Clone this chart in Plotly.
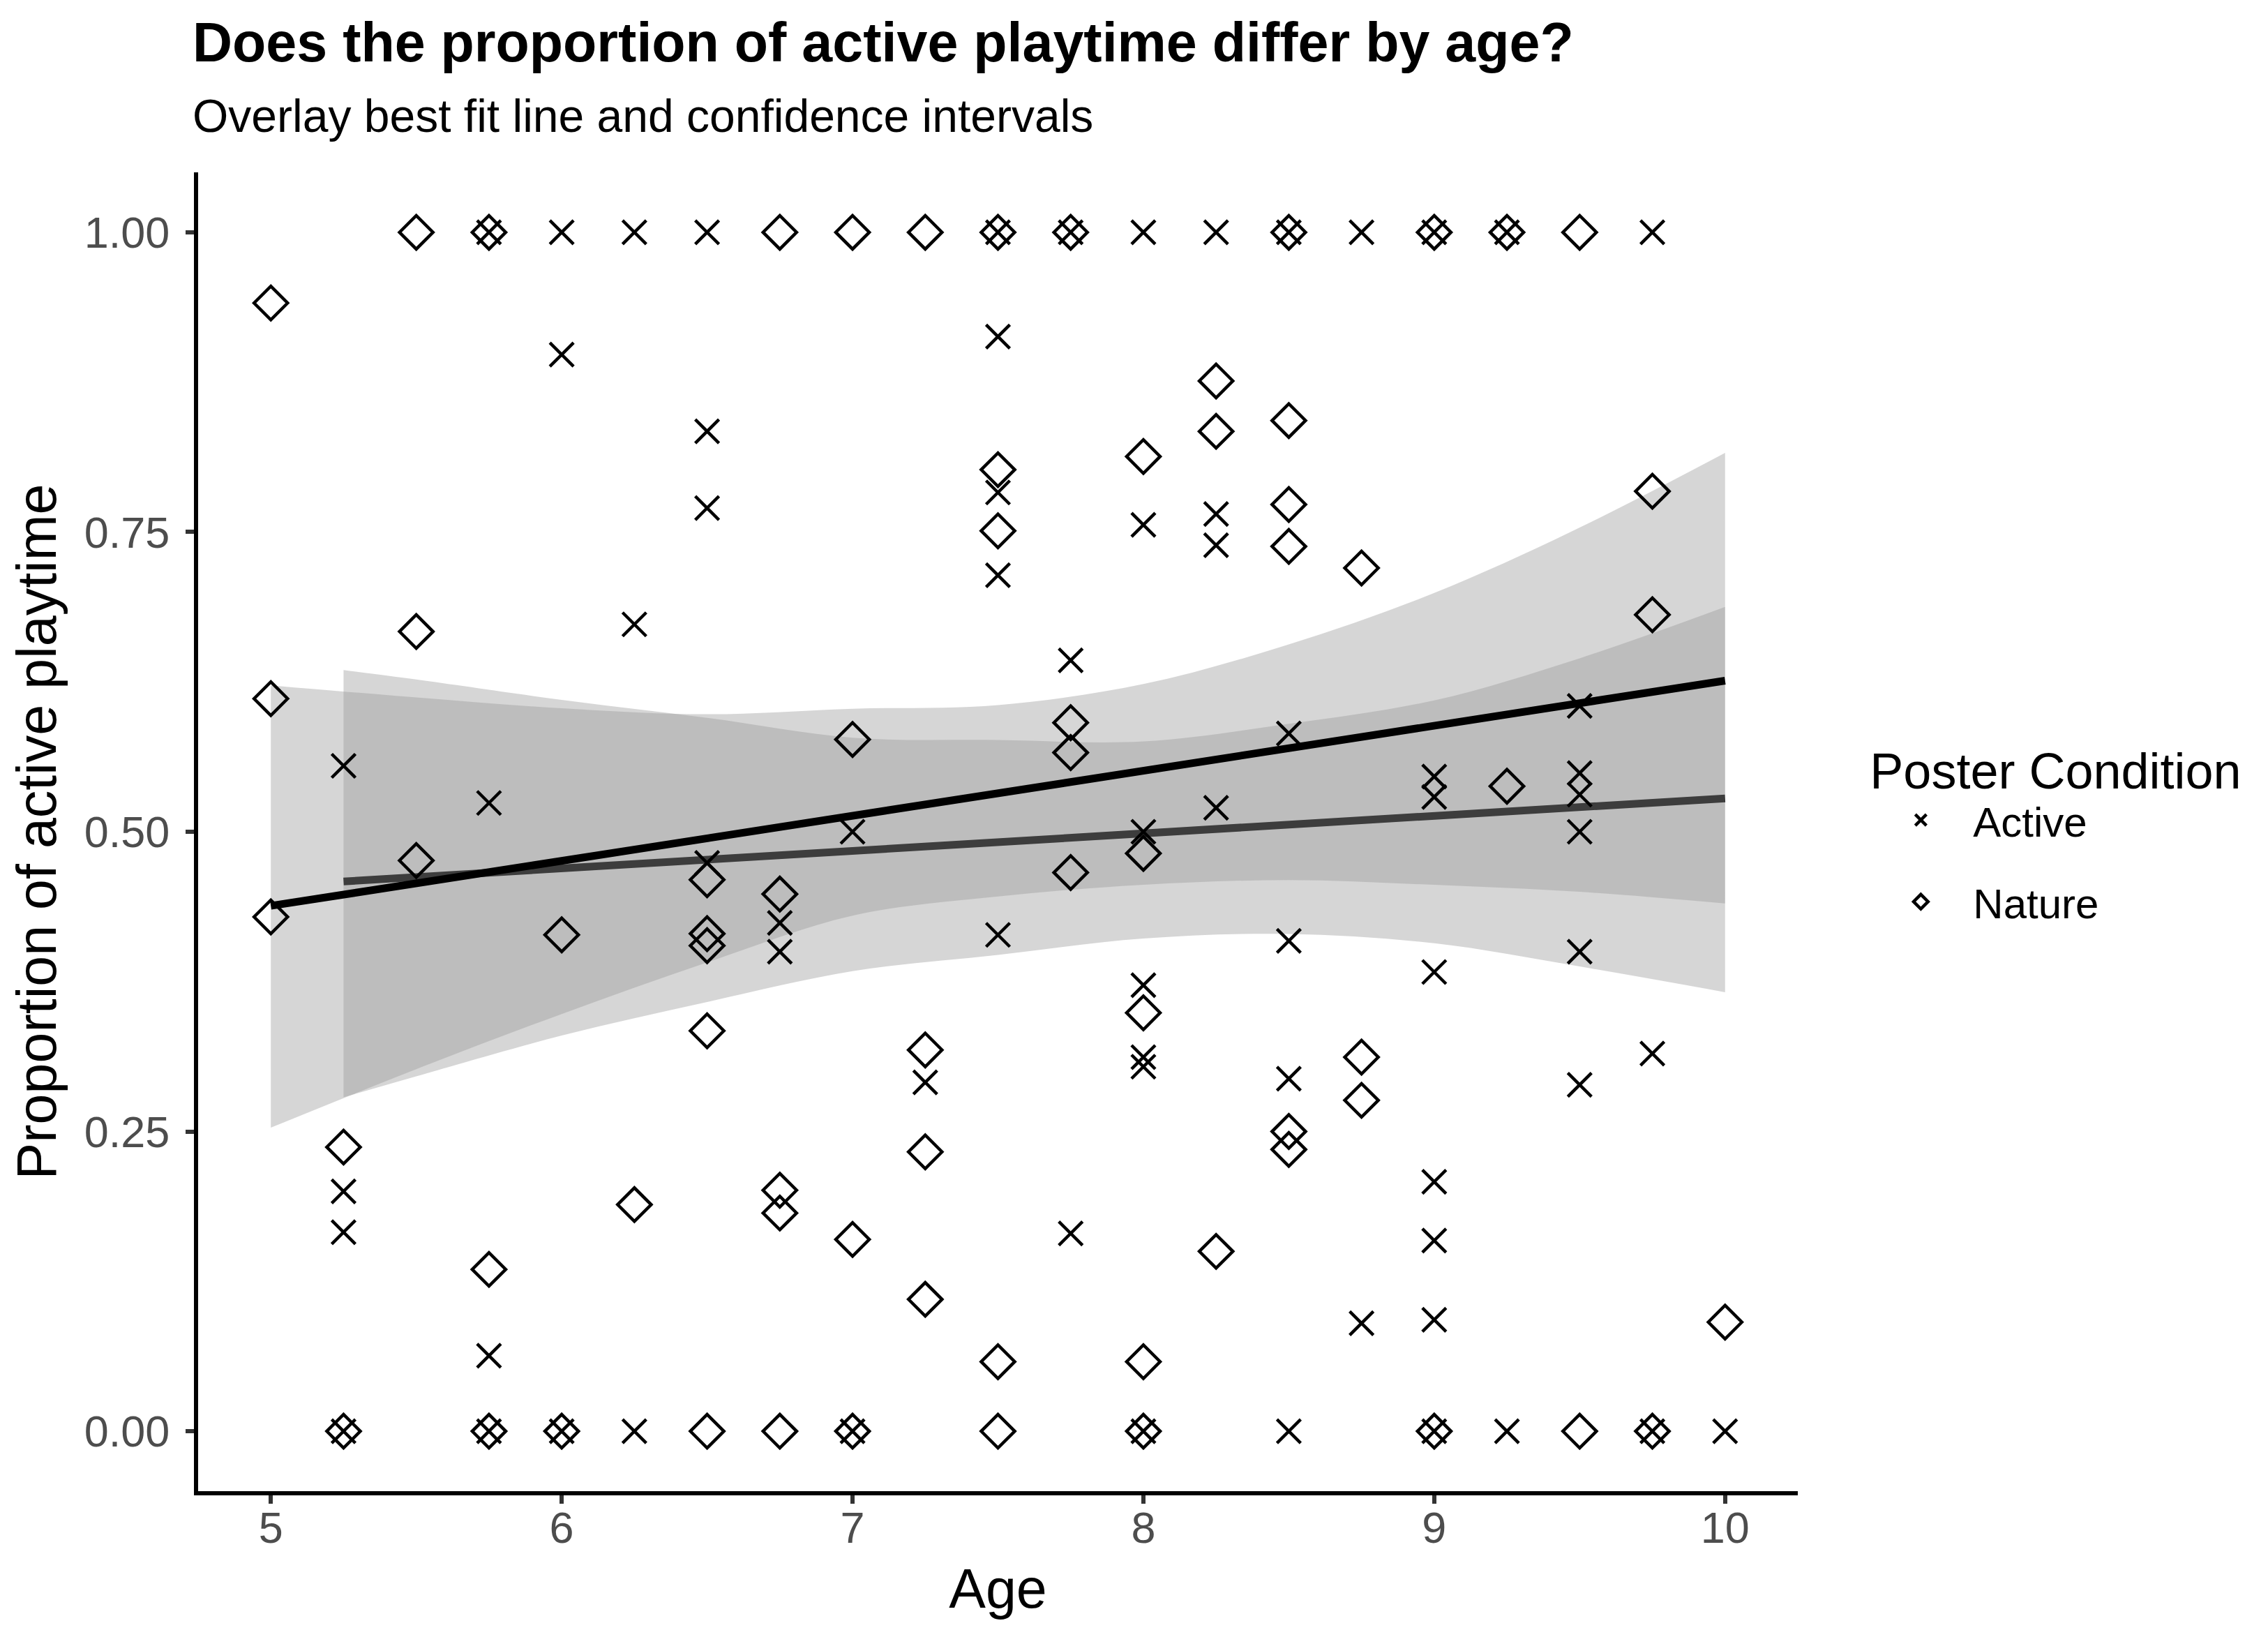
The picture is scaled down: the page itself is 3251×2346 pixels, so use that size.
import plotly.graph_objects as go

# ---------------- data ----------------
active_age = [5.25, 5.25, 5.25, 5.25,
              5.75, 5.75, 5.75, 5.75,
              6.0, 6.0, 6.0,
              6.25, 6.25, 6.25,
              6.5, 6.5, 6.5, 6.5,
              6.75, 6.75,
              7.0, 7.0,
              7.25,
              7.5, 7.5, 7.5, 7.5, 7.5,
              7.75, 7.75, 7.75,
              8.0, 8.0, 8.0, 8.0, 8.0, 8.0, 8.0,
              8.25, 8.25, 8.25, 8.25,
              8.5, 8.5, 8.5, 8.5, 8.5,
              8.75, 8.75,
              9.0, 9.0, 9.0, 9.0, 9.0, 9.0, 9.0, 9.0,
              9.25, 9.25,
              9.5, 9.5, 9.5, 9.5, 9.5, 9.5,
              9.75, 9.75, 9.75,
              10.0]
active_prop = [0.555, 0.200, 0.166, 0.0,
               1.0, 0.524, 0.063, 0.0,
               1.0, 0.898, 0.0,
               1.0, 0.673, 0.0,
               1.0, 0.834, 0.770, 0.474,
               0.424, 0.400,
               0.500, 0.0,
               0.291,
               1.0, 0.913, 0.783, 0.714, 0.414,
               1.0, 0.643, 0.165,
               1.0, 0.756, 0.500, 0.372, 0.312, 0.304, 0.0,
               1.0, 0.765, 0.739, 0.520,
               1.0, 0.582, 0.409, 0.294, 0.0,
               1.0, 0.090,
               1.0, 0.546, 0.529, 0.383, 0.208, 0.159, 0.093, 0.0,
               1.0, 0.0,
               0.605, 0.549, 0.531, 0.500, 0.400, 0.289,
               1.0, 0.315, 0.0,
               0.0]

nature_age = [5.0, 5.0, 5.0,
              5.25, 5.25,
              5.5, 5.5, 5.5,
              5.75, 5.75, 5.75,
              6.0, 6.0,
              6.25,
              6.5, 6.5, 6.5, 6.5, 6.5,
              6.75, 6.75, 6.75, 6.75, 6.75,
              7.0, 7.0, 7.0, 7.0,
              7.25, 7.25, 7.25, 7.25,
              7.5, 7.5, 7.5, 7.5, 7.5,
              7.75, 7.75, 7.75, 7.75,
              8.0, 8.0, 8.0, 8.0, 8.0,
              8.25, 8.25, 8.25,
              8.5, 8.5, 8.5, 8.5, 8.5, 8.5,
              8.75, 8.75, 8.75,
              9.0, 9.0,
              9.25, 9.25,
              9.5, 9.5,
              9.75, 9.75, 9.75,
              10.0]
nature_prop = [0.941, 0.611, 0.429,
               0.237, 0.0,
               1.0, 0.667, 0.476,
               1.0, 0.135, 0.0,
               0.414, 0.0,
               0.189,
               0.460, 0.415, 0.405, 0.334, 0.0,
               1.0, 0.448, 0.201, 0.182, 0.0,
               1.0, 0.577, 0.160, 0.0,
               1.0, 0.318, 0.233, 0.110,
               1.0, 0.802, 0.751, 0.058, 0.0,
               1.0, 0.591, 0.566, 0.466,
               0.813, 0.482, 0.349, 0.058, 0.0,
               0.876, 0.834, 0.150,
               1.0, 0.843, 0.773, 0.738, 0.250, 0.235,
               0.720, 0.312, 0.276,
               1.0, 0.0,
               1.0, 0.538,
               1.0, 0.0,
               0.784, 0.681, 0.0,
               0.091]

# best-fit lines (geom_smooth, method = "lm")
active_fit_x = [5.25, 10.0]
active_fit_y = [0.4585, 0.5278]
nature_fit_x = [5.0, 10.0]
nature_fit_y = [0.4382, 0.6260]

# 95% confidence ribbons
active_band_x = [5.25, 5.5, 6.0, 6.5, 7.0, 7.5, 8.0, 8.5, 9.0, 9.5, 10.0]
active_band_lo = [0.2785, 0.296, 0.330, 0.358, 0.3837, 0.3973, 0.4110, 0.4148, 0.4070, 0.3876, 0.3662]
active_band_hi = [0.6349, 0.627, 0.610, 0.595, 0.5784, 0.5765, 0.5753, 0.5901, 0.6096, 0.6447, 0.6875]
nature_band_x = [5.0, 5.5, 6.0, 6.5, 7.0, 7.5, 8.0, 8.5, 9.0, 9.5, 10.0]
nature_band_lo = [0.2532, 0.302, 0.348, 0.391, 0.4300, 0.4460, 0.4557, 0.4597, 0.4557, 0.4499, 0.4402]
nature_band_hi = [0.6221, 0.612, 0.603, 0.598, 0.6026, 0.6057, 0.6232, 0.6563, 0.6992, 0.7537, 0.8160]

x_ticks = [5, 6, 7, 8, 9, 10]
y_ticks = [0.0, 0.25, 0.5, 0.75, 1.0]
y_tick_labels = ["0.00", "0.25", "0.50", "0.75", "1.00"]

title_text = "Does the proportion of active playtime differ by age?"
subtitle_text = "Overlay best fit line and confidence intervals"
x_title = "Age"
y_title = "Proportion of active playtime"
legend_title = "Poster Condition"
group_names = ["Active", "Nature"]

# ---------------- figure ----------------
W, H = 3251, 2346
ML, MR, MT, MB = 276, 682, 239, 217
PH = H - MT - MB
PW = W - ML - MR

band_fill = "rgba(153,153,153,0.4)"
fig = go.Figure()

groups = [
    (active_band_x, active_band_lo, active_band_hi, active_fit_x, active_fit_y),
    (nature_band_x, nature_band_lo, nature_band_hi, nature_fit_x, nature_fit_y),
]
for bx, blo, bhi, fx, fy in groups:
    fig.add_trace(go.Scatter(
        x=bx, y=blo, mode="lines",
        line=dict(width=0, color="rgba(0,0,0,0)", shape="spline", smoothing=1.0),
        hoverinfo="skip", showlegend=False))
    fig.add_trace(go.Scatter(
        x=bx, y=bhi, mode="lines", fill="tonexty", fillcolor=band_fill,
        line=dict(width=0, color="rgba(0,0,0,0)", shape="spline", smoothing=1.0),
        hoverinfo="skip", showlegend=False))
    fig.add_trace(go.Scatter(
        x=fx, y=fy, mode="lines", line=dict(color="black", width=11),
        hoverinfo="skip", showlegend=False))

fig.add_trace(go.Scatter(
    x=active_age, y=active_prop, mode="markers", name=group_names[0],
    legendgroup="a",
    marker=dict(symbol="x-thin-open", size=34, color="black",
                line=dict(color="black", width=4.5))))
fig.add_trace(go.Scatter(
    x=nature_age, y=nature_prop, mode="markers", name=group_names[1],
    legendgroup="b",
    marker=dict(symbol="diamond-open", size=37, color="black",
                line=dict(color="black", width=4.5))))

font_family = "Liberation Sans, Arial, sans-serif"

fig.update_layout(
    width=W, height=H, autosize=False,
    margin=dict(l=ML, r=MR, t=MT, b=MB, pad=0),
    paper_bgcolor="white", plot_bgcolor="white",
    font=dict(family=font_family, color="black", size=60),
    showlegend=True,
    legend=dict(
        title=dict(text=legend_title, font=dict(size=72, color="black")),
        font=dict(size=60, color="black"),
        x=1.0442, xanchor="left", y=0.5026, yanchor="middle",
        itemsizing="trace", itemwidth=140, tracegroupgap=36,
        bgcolor="rgba(0,0,0,0)"),
    xaxis=dict(
        range=[4.75, 10.25], tickvals=x_ticks, ticktext=[str(v) for v in x_ticks],
        showgrid=False, zeroline=False, showline=True, linecolor="black", linewidth=6,
        ticks="outside", ticklen=12, tickwidth=6, tickcolor="#333333",
        tickfont=dict(size=63, color="#4D4D4D"), ticklabelstandoff=-20,
        title=dict(text=x_title, font=dict(size=79, color="black"), standoff=28)),
    yaxis=dict(
        range=[-0.05, 1.05], tickvals=y_ticks, ticktext=y_tick_labels,
        showgrid=False, zeroline=False, showline=True, linecolor="black", linewidth=6,
        ticks="outside", ticklen=12, tickwidth=6, tickcolor="#333333",
        tickfont=dict(size=63, color="#4D4D4D"), ticklabelstandoff=10,
        title=dict(text=y_title, font=dict(size=79, color="black"), standoff=22)),
)

fig.add_annotation(text="<b>" + title_text + "</b>", xref="paper", yref="paper",
                   x=-10 / PW, xanchor="left", y=(PH + MT - 52) / PH, yanchor="middle",
                   showarrow=False, font=dict(size=79, color="black"))
fig.add_annotation(text=subtitle_text, xref="paper", yref="paper",
                   x=-10 / PW, xanchor="left", y=(PH + MT - 158) / PH, yanchor="middle",
                   showarrow=False, font=dict(size=66, color="black"))

fig.write_html("out.html")
